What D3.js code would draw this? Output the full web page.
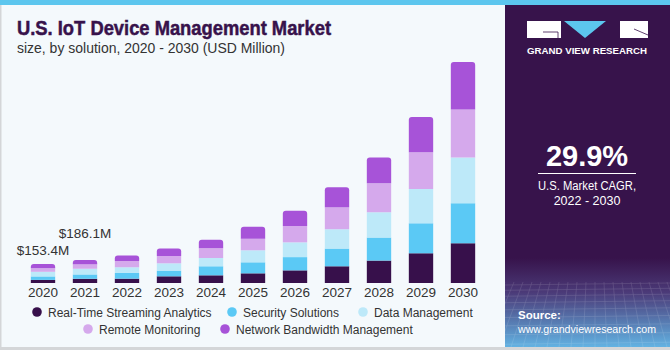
<!DOCTYPE html>
<html>
<head>
<meta charset="utf-8">
<script src="https://cdn.jsdelivr.net/npm/d3@7"></script>
<style>
  body { margin: 0; padding: 0; background: #ffffff; }
  svg { display: block; }
</style>
</head>
<body>
<div id="chart"></div>
<script>
// Years on the x axis
const years = ["2020", "2021", "2022", "2023", "2024", "2025", "2026", "2027", "2028", "2029", "2030"];

// Segment values per solution (USD Million)
const realTime   = [25, 34, 35, 54, 62, 78, 102, 135, 181, 240, 320];
const security   = [28, 35, 46, 46, 73, 89, 107, 143, 186, 242, 323];
const dataMgmt   = [37.4, 46, 46, 59, 67, 97, 119, 156, 204, 277, 371];
const remoteMon  = [28, 37, 51, 59, 78, 94, 132, 178, 234, 296, 387];
const bandwidth  = [35, 34.1, 43, 60, 70, 97, 124, 161, 207, 285, 383];

// Series names and colours
const seriesNames = ["Real-Time Streaming Analytics", "Security Solutions", "Data Management",
                     "Remote Monitoring", "Network Bandwidth Management"];
const seriesColors = ["#37104b", "#5bc9f5", "#bde9f9", "#d5a9ec", "#a753d8"];

// Labels shown above the first two bars
const valueLabels = [{ year: "2020", text: "$153.4M", dy: -9 }, { year: "2021", text: "$186.1M", dy: -22 }];

const width = 670;
const height = 350;
const font = "'Liberation Sans', Arial, sans-serif";

const svg = d3.select("#chart")
    .append("svg")
    .attr("width", width)
    .attr("height", height);

// Background panels
svg.append("rect").attr("x", 0).attr("y", 0).attr("width", width).attr("height", height).attr("fill", "#d4d6d8");
svg.append("rect").attr("x", 1.5).attr("y", 0).attr("width", width - 1.5).attr("height", 347).attr("fill", "#f4f9fc");
svg.append("rect").attr("x", 0).attr("y", 0).attr("width", width).attr("height", 5).attr("fill", "#5cc6ee");

// Title (a thin stroke makes it look heavier)
svg.append("text")
    .attr("x", 17).attr("y", 35)
    .attr("textLength", 314)
    .attr("lengthAdjust", "spacingAndGlyphs")
    .style("font-family", font)
    .style("font-weight", "bold")
    .style("font-size", "21px")
    .attr("fill", "#37124b")
    .attr("stroke", "#37124b")
    .attr("stroke-width", 0.5)
    .text("U.S. IoT Device Management Market");

svg.append("text")
    .attr("x", 17).attr("y", 53)
    .attr("textLength", 268)
    .attr("lengthAdjust", "spacingAndGlyphs")
    .style("font-family", font)
    .style("font-size", "14px")
    .attr("fill", "#333333")
    .text("size, by solution, 2020 - 2030 (USD Million)");

// Build the stacked data
const table = years.map((y, i) => ({
    year: y,
    s0: realTime[i], s1: security[i], s2: dataMgmt[i], s3: remoteMon[i], s4: bandwidth[i]
}));
const keys = ["s0", "s1", "s2", "s3", "s4"];
const stacked = d3.stack().keys(keys)(table);

// Scales
const x = d3.scaleBand()
    .domain(years)
    .range([22, 484])
    .paddingInner(0.42)
    .paddingOuter(0.21);

const y = d3.scaleLinear()
    .domain([0, 1800])
    .range([283, 60]);

// Draw bars: top segment gets rounded top corners
const r = 3;
stacked.forEach((layer, li) => {
    svg.append("g")
        .selectAll("path")
        .data(layer)
        .enter()
        .append("path")
        .attr("fill", seriesColors[li])
        .attr("d", d => {
            const x0 = x(d.data.year), x1 = x0 + x.bandwidth();
            const yTop = y(d[1]), yBot = y(d[0]);
            if (li === keys.length - 1) {
                return `M${x0},${yBot}V${yTop + r}Q${x0},${yTop} ${x0 + r},${yTop}` +
                       `H${x1 - r}Q${x1},${yTop} ${x1},${yTop + r}V${yBot}Z`;
            }
            return `M${x0},${yBot}V${yTop}H${x1}V${yBot}Z`;
        });
});

// X axis (labels only)
const xAxis = svg.append("g")
    .attr("transform", `translate(0, 283)`)
    .call(d3.axisBottom(x).tickSize(0).tickPadding(4));
xAxis.select(".domain").remove();
xAxis.selectAll("text")
    .style("font-family", font)
    .style("font-size", "13.5px")
    .attr("fill", "#333333");

// Value labels
const totals = years.map((yr, i) => realTime[i] + security[i] + dataMgmt[i] + remoteMon[i] + bandwidth[i]);
svg.selectAll(".vlabel")
    .data(valueLabels)
    .enter()
    .append("text")
    .attr("class", "vlabel")
    .attr("x", d => x(d.year) + x.bandwidth() / 2)
    .attr("y", d => y(totals[years.indexOf(d.year)]) + d.dy)
    .attr("text-anchor", "middle")
    .style("font-family", font)
    .style("font-size", "13.5px")
    .attr("fill", "#333333")
    .text(d => d.text);

// Legend
const legendPos = [
    { x: 37, y: 312 }, { x: 232, y: 312 }, { x: 363, y: 312 },
    { x: 88, y: 329 }, { x: 225, y: 329 }
];
const legend = svg.selectAll(".legend")
    .data(seriesNames)
    .enter()
    .append("g")
    .attr("class", "legend")
    .attr("transform", (d, i) => `translate(${legendPos[i].x}, ${legendPos[i].y})`);
legend.append("circle")
    .attr("r", 4.8)
    .attr("fill", (d, i) => seriesColors[i]);
legend.append("text")
    .attr("x", 11).attr("y", 4.5)
    .style("font-family", font)
    .style("font-size", "12px")
    .attr("fill", "#333333")
    .text(d => d);

// Right side panel
const panelX = 505;
const defs = svg.append("defs");
const grad = defs.append("linearGradient")
    .attr("id", "panelGrad")
    .attr("x1", 0).attr("y1", 0).attr("x2", 0).attr("y2", 1);
grad.append("stop").attr("offset", "0%").attr("stop-color", "#37134b");
grad.append("stop").attr("offset", "74%").attr("stop-color", "#37134b");
grad.append("stop").attr("offset", "84%").attr("stop-color", "#4b3a78");
grad.append("stop").attr("offset", "100%").attr("stop-color", "#62b2e2");

svg.append("rect")
    .attr("x", panelX).attr("y", 5)
    .attr("width", width - panelX).attr("height", 342)
    .attr("fill", "url(#panelGrad)");

// faint grid texture at the bottom of the panel
const gridG = svg.append("g").attr("opacity", 0.18);
d3.range(0, 12).forEach(i => {
    gridG.append("line")
        .attr("x1", panelX).attr("x2", width)
        .attr("y1", 285 + i * 5 + i * i * 0.3).attr("y2", 283 + i * 5 + i * i * 0.3)
        .attr("stroke", "#ffffff").attr("stroke-width", 0.6);
});
d3.range(0, 20).forEach(i => {
    gridG.append("line")
        .attr("x1", panelX + i * 9).attr("x2", panelX + i * 9 + (i - 10) * 3)
        .attr("y1", 282).attr("y2", 347)
        .attr("stroke", "#ffffff").attr("stroke-width", 0.6);
});

// Logo
const logo = svg.append("g");
logo.append("rect").attr("x", 527).attr("y", 21).attr("width", 34).attr("height", 17).attr("fill", "#ffffff");
logo.append("path").attr("d", "M543,32H558V38").attr("fill", "none").attr("stroke", "#37134b").attr("stroke-width", 0.8);
logo.append("path").attr("d", "M564,21H606L585,38Z").attr("fill", "#5cc6ee");
logo.append("rect").attr("x", 620).attr("y", 21).attr("width", 28).attr("height", 17).attr("fill", "#ffffff");
logo.append("path").attr("d", "M634,29L648,35").attr("fill", "none").attr("stroke", "#37134b").attr("stroke-width", 0.8);
logo.append("text")
    .attr("x", 587).attr("y", 54)
    .attr("text-anchor", "middle")
    .attr("textLength", 120)
    .attr("lengthAdjust", "spacingAndGlyphs")
    .style("font-family", font)
    .style("font-weight", "bold")
    .style("font-size", "8.5px")
    .attr("fill", "#ffffff")
    .text("GRAND VIEW RESEARCH");

// CAGR block
svg.append("text")
    .attr("x", 587).attr("y", 166)
    .attr("text-anchor", "middle")
    .style("font-family", font)
    .style("font-weight", "bold")
    .style("font-size", "29px")
    .attr("fill", "#ffffff")
    .text("29.9%");
svg.append("line")
    .attr("x1", 538).attr("x2", 636)
    .attr("y1", 173.5).attr("y2", 173.5)
    .attr("stroke", "#ffffff").attr("stroke-width", 1);
svg.append("text")
    .attr("x", 587).attr("y", 190)
    .attr("text-anchor", "middle")
    .attr("textLength", 98)
    .attr("lengthAdjust", "spacingAndGlyphs")
    .style("font-family", font)
    .style("font-size", "12.5px")
    .attr("fill", "#ffffff")
    .text("U.S. Market CAGR,");
svg.append("text")
    .attr("x", 587).attr("y", 205)
    .attr("text-anchor", "middle")
    .style("font-family", font)
    .style("font-size", "12.5px")
    .attr("fill", "#ffffff")
    .text("2022 - 2030");

// Source
svg.append("text")
    .attr("x", 518).attr("y", 319)
    .style("font-family", font)
    .style("font-weight", "bold")
    .style("font-size", "11.5px")
    .attr("fill", "#ffffff")
    .text("Source:");
svg.append("text")
    .attr("x", 518).attr("y", 333)
    .attr("textLength", 138)
    .attr("lengthAdjust", "spacingAndGlyphs")
    .style("font-family", font)
    .style("font-size", "11.5px")
    .attr("fill", "#ffffff")
    .text("www.grandviewresearch.com");
</script>
</body>
</html>
